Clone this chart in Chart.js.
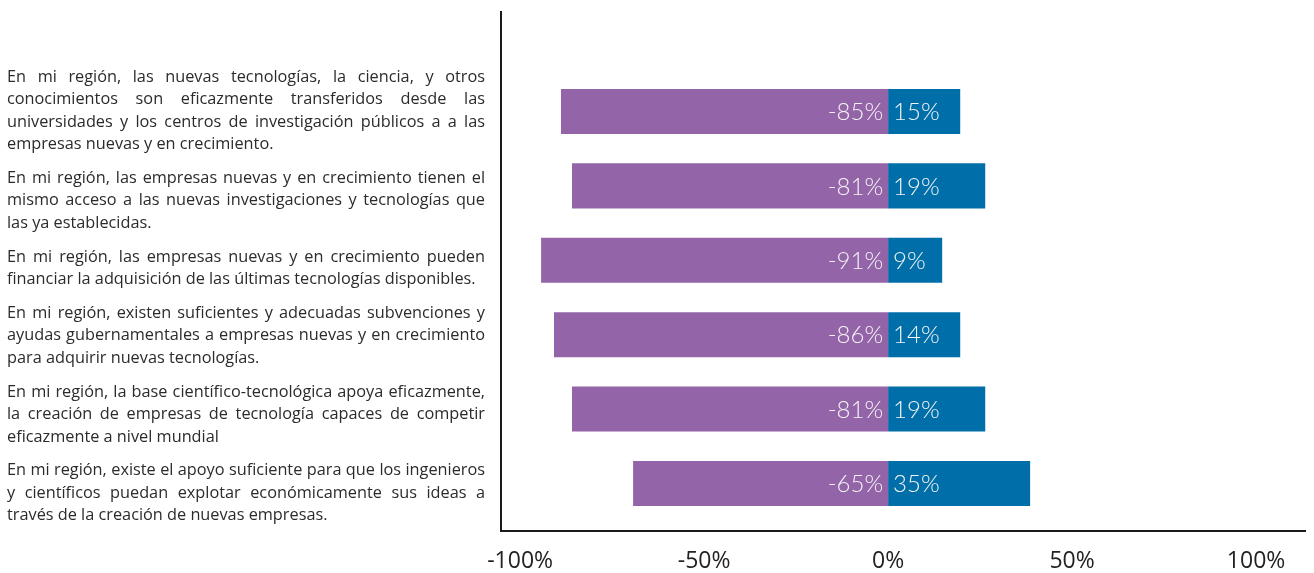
<!DOCTYPE html>
<html>
<head>
<meta charset="utf-8">
<title>Transferencia de tecnología</title>
<script src="https://cdn.jsdelivr.net/npm/chart.js@4/dist/chart.umd.min.js"></script>
<style>
  html, body { margin: 0; padding: 0; background: #fff; }
  #wrap { width: 1314px; height: 573px; }
</style>
</head>
<body>
<div id="wrap"><canvas id="chart"></canvas></div>
<script>
// questions, one per bar, already broken into lines as in the original
var categories = [
  ['En mi región, las nuevas tecnologías, la ciencia, y otros',
   'conocimientos son eficazmente transferidos desde las',
   'universidades y los centros de investigación públicos a a las',
   'empresas nuevas y en crecimiento.'],
  ['En mi región, las empresas nuevas y en crecimiento tienen el',
   'mismo acceso a las nuevas investigaciones y tecnologías que',
   'las ya establecidas.'],
  ['En mi región, las empresas nuevas y en crecimiento pueden',
   'financiar la adquisición de las últimas tecnologías disponibles.'],
  ['En mi región, existen suficientes y adecuadas subvenciones y',
   'ayudas gubernamentales a empresas nuevas y en crecimiento',
   'para adquirir nuevas tecnologías.'],
  ['En mi región, la base científico-tecnológica apoya eficazmente,',
   'la creación de empresas de tecnología capaces de competir',
   'eficazmente a nivel mundial'],
  ['En mi región, existe el apoyo suficiente para que los ingenieros',
   'y científicos puedan explotar económicamente sus ideas a',
   'través de la creación de nuevas empresas.']
];

// bar lengths as drawn (axis units)
var desacuerdo = [-88.9, -85.9, -94.3, -90.8, -85.9, -69.3];
var acuerdo = [19.6, 26.4, 14.7, 19.6, 26.4, 38.6];

// percentages printed on the bars
var desacuerdoPct = [-85, -81, -91, -86, -81, -65];
var acuerdoPct = [15, 19, 9, 14, 19, 35];

var xTicks = [-100, -50, 0, 50, 100];

function points(values) {
    return values.map(function(v, i) { return {x: v, y: i}; });
}

function drawLine(ctx, line, x, y, width, justify) {
    var words = line.split(' ');
    var natural = ctx.measureText(line).width;
    if ((!justify && natural <= width) || words.length < 2) {
        ctx.fillText(line, x, y);
        return;
    }
    var total = 0;
    words.forEach(function(w) { total += ctx.measureText(w).width; });
    var gap = (width - total) / (words.length - 1);
    var cx = x;
    words.forEach(function(w) {
        ctx.fillText(w, cx, y);
        cx += ctx.measureText(w).width + gap;
    });
}

// justified question text to the left of the plot
var questionLabels = {
    id: 'questionLabels',
    afterDraw: function(chart) {
        var ctx = chart.ctx,
            yScale = chart.scales.y,
            lineH = 22.4, paraGap = 11.5,
            left = 7, width = 478;
        var nLines = 0;
        categories.forEach(function(c) { nLines += c.length; });
        var span = (nLines - 1) * lineH + (categories.length - 1) * paraGap;
        var mid = yScale.getPixelForValue((categories.length - 1) / 2);
        var y = mid - span / 2 - 1;
        ctx.save();
        ctx.font = '16.3px "Open Sans", Lato, sans-serif';
        ctx.fillStyle = '#2b2b2b';
        ctx.textBaseline = 'middle';
        ctx.textAlign = 'left';
        categories.forEach(function(lines) {
            lines.forEach(function(line, j) {
                drawLine(ctx, line, left, y, width, j < lines.length - 1);
                y += lineH;
            });
            y += paraGap;
        });
        ctx.restore();
    }
};

// percentages inside the bars, beside the zero line
var barLabels = {
    id: 'barLabels',
    afterDatasetsDraw: function(chart) {
        var ctx = chart.ctx;
        ctx.save();
        ctx.font = '300 24px Lato, "Open Sans", sans-serif';
        ctx.fillStyle = '#f4f4f4';
        ctx.textBaseline = 'middle';
        chart.getDatasetMeta(0).data.forEach(function(bar, i) {
            ctx.textAlign = 'right';
            ctx.fillText(desacuerdoPct[i] + '%', bar.base - 5, bar.y + 1);
        });
        chart.getDatasetMeta(1).data.forEach(function(bar, i) {
            ctx.textAlign = 'left';
            ctx.fillText(acuerdoPct[i] + '%', bar.base + 5, bar.y + 1);
        });
        ctx.restore();
    }
};

new Chart(document.getElementById('chart'), {
    type: 'bar',
    data: {
        datasets: [{
            label: 'Desacuerdo',
            data: points(desacuerdo),
            backgroundColor: '#9364a8',
            borderWidth: 0
        }, {
            label: 'Acuerdo',
            data: points(acuerdo),
            backgroundColor: '#006fa9',
            borderWidth: 0
        }]
    },
    options: {
        indexAxis: 'y',
        responsive: true,
        maintainAspectRatio: false,
        animation: false,
        categoryPercentage: 1,
        barPercentage: 0.605,
        layout: { padding: { left: 501, top: 12, right: 9, bottom: -18 } },
        plugins: {
            legend: { display: false },
            tooltip: { enabled: false }
        },
        scales: {
            x: {
                type: 'linear',
                stacked: true,
                min: -105.2,
                max: 113.3,
                afterBuildTicks: function(scale) {
                    scale.ticks = xTicks.map(function(v) { return {value: v}; });
                },
                grid: { display: false, drawTicks: false },
                border: { display: true, color: '#1a1a1a', width: 2 },
                ticks: {
                    padding: 16,
                    color: '#222222',
                    font: { family: '"Open Sans", sans-serif', size: 23 },
                    maxRotation: 0,
                    callback: function(v) { return v + '%'; }
                }
            },
            y: {
                type: 'linear',
                stacked: true,
                reverse: true,
                offset: false,
                min: -1.337,
                max: 5.644,
                afterBuildTicks: function(scale) {
                    scale.ticks = categories.map(function(c, i) { return {value: i}; });
                },
                grid: { display: false, drawTicks: false },
                border: { display: true, color: '#1a1a1a', width: 2 },
                ticks: { display: false }
            }
        }
    },
    plugins: [questionLabels, barLabels]
});
</script>
</body>
</html>
